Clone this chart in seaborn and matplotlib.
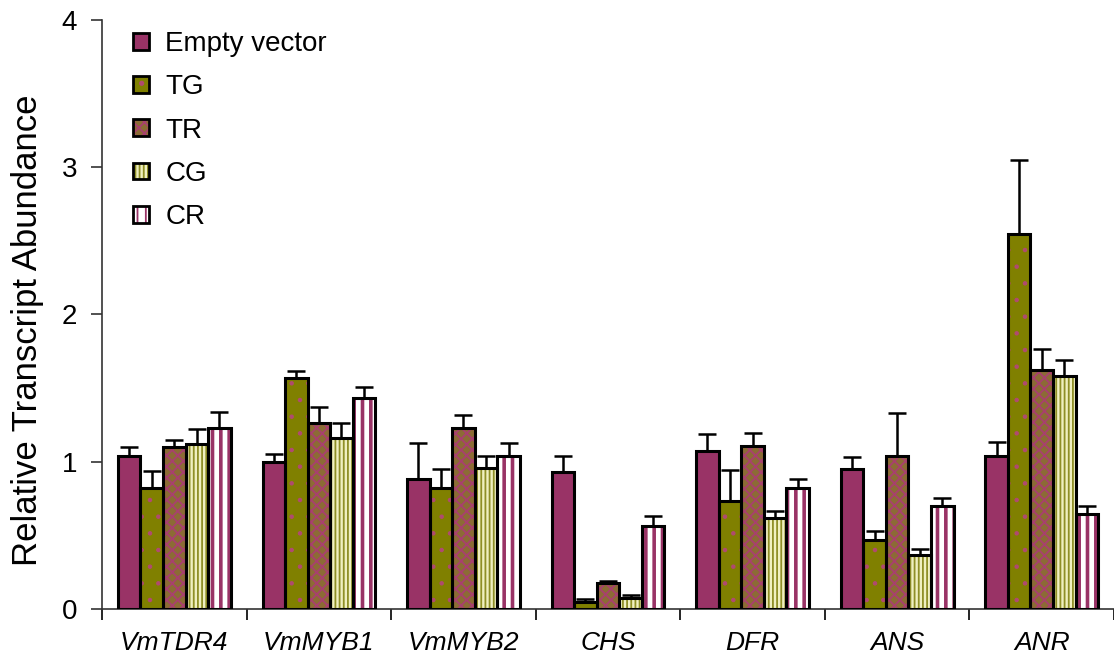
import matplotlib
matplotlib.use("Agg")
import matplotlib.pyplot as plt
import matplotlib.patches as mpatches
from matplotlib.legend_handler import HandlerTuple
import numpy as np
import pandas as pd
import seaborn as sns

# Genes on the x axis and treatments shown as grouped bars
genes = ["VmTDR4", "VmMYB1", "VmMYB2", "CHS", "DFR", "ANS", "ANR"]
treatments = ["Empty vector", "TG", "TR", "CG", "CR"]

# Mean relative transcript abundance per treatment
empty_vector = [1.04, 1.00, 0.88, 0.93, 1.07, 0.95, 1.04]
tg = [0.82, 1.57, 0.82, 0.05, 0.73, 0.47, 2.55]
tr = [1.10, 1.26, 1.23, 0.175, 1.11, 1.04, 1.62]
cg = [1.12, 1.16, 0.96, 0.077, 0.62, 0.365, 1.585]
cr = [1.23, 1.435, 1.04, 0.566, 0.824, 0.70, 0.647]

# Standard errors (upper bars only)
empty_vector_err = [0.06, 0.055, 0.245, 0.11, 0.12, 0.08, 0.095]
tg_err = [0.115, 0.045, 0.13, 0.016, 0.216, 0.058, 0.50]
tr_err = [0.05, 0.11, 0.085, 0.015, 0.083, 0.29, 0.145]
cg_err = [0.10, 0.10, 0.08, 0.016, 0.043, 0.04, 0.108]
cr_err = [0.11, 0.07, 0.085, 0.068, 0.056, 0.056, 0.053]

means = [empty_vector, tg, tr, cg, cr]
errs = [empty_vector_err, tg_err, tr_err, cg_err, cr_err]

rows = []
for t, vals in zip(treatments, means):
    for g, v in zip(genes, vals):
        rows.append({"gene": g, "treatment": t, "value": v})
df = pd.DataFrame(rows)

# fill colour, hatch pattern, hatch colour, hatch line width per treatment
styles = {
    "Empty vector": ("#993366", "", "#993366", 1.0),
    "TG": ("#808000", ".", "#b04a70", 0.8),
    "TR": ("#8c6b35", "xxx", "#a8406e", 1.3),
    "CG": ("#f0f0c0", "||||", "#8f8f26", 1.3),
    "CR": ("#ffffff", "||", "#993366", 2.6),
}

sns.set_style("white")
plt.rcParams["font.family"] = ["Liberation Sans", "DejaVu Sans"]
for key in ["text.color", "axes.labelcolor", "xtick.color", "ytick.color"]:
    plt.rcParams[key] = "black"
plt.rcParams["hatch.linewidth"] = 1.3


def style_patch(p, face, hatch, hcol, hlw):
    p.set_facecolor(face)
    p.set_hatch(hatch)
    p.set_edgecolor(hcol)
    p.set_linewidth(0)
    if hasattr(p, "set_hatch_linewidth"):
        p.set_hatch_linewidth(hlw)
    else:
        p._hatch_linewidth = hlw


fig = plt.figure(figsize=(11.14, 6.58), dpi=100)
ax = fig.add_axes([0.0916, 0.0745, 0.9084, 0.8951])

sns.barplot(data=df, x="gene", y="value", hue="treatment", order=genes,
            hue_order=treatments, palette=[styles[t][0] for t in treatments],
            width=0.78, errorbar=None, legend=False, ax=ax, saturation=1)

for container, t, err in zip(ax.containers, treatments, errs):
    xs, tops = [], []
    for p in container.patches:
        style_patch(p, *styles[t])
        ax.add_patch(mpatches.Rectangle((p.get_x(), p.get_y()), p.get_width(),
                                        p.get_height(), fill=False, ec="black",
                                        lw=2.2, zorder=3))
        xs.append(p.get_x() + p.get_width() / 2)
        tops.append(p.get_height())
    ax.errorbar(xs, tops, yerr=[np.zeros(len(err)), err], fmt="none",
                ecolor="black", elinewidth=1.8, capsize=6.5, capthick=1.8,
                zorder=2)

ax.set_ylim(0, 4)
ax.set_xlim(-0.5, len(genes) - 0.5)
ax.set_yticks([0, 1, 2, 3, 4])
ax.set_xticks(range(len(genes)))
ax.set_xticklabels(genes, style="italic", fontsize=19)
ax.set_xticks(np.arange(-0.5, len(genes)), minor=True)
ax.tick_params(axis="x", which="major", length=0, pad=16)
ax.tick_params(axis="x", which="minor", length=8, width=1.2, direction="out",
               bottom=True, color="black")
ax.tick_params(axis="y", length=8, width=1.2, direction="out", left=True,
               labelsize=20, color="#333333", pad=10)
ax.set_xlabel("")
ax.set_ylabel("Relative Transcript Abundance", fontsize=25)
ax.yaxis.set_label_coords(-0.057, 0.474)

for s in ["top", "right"]:
    ax.spines[s].set_visible(False)
for s in ["left", "bottom"]:
    ax.spines[s].set_color("#333333")
    ax.spines[s].set_linewidth(1.2)

handles = []
for t in treatments:
    fill = mpatches.Patch()
    style_patch(fill, *styles[t])
    edge = mpatches.Patch(fill=False, edgecolor="black", linewidth=2)
    handles.append((fill, edge))
ax.legend(handles, treatments, handler_map={tuple: HandlerTuple(ndivide=1)},
          loc="upper left", bbox_to_anchor=(0.02, 1.0), frameon=False,
          fontsize=20, handlelength=0.55, handleheight=0.55, handletextpad=0.6,
          labelspacing=0.62, borderaxespad=0)

fig.savefig("out.png", dpi=100)
